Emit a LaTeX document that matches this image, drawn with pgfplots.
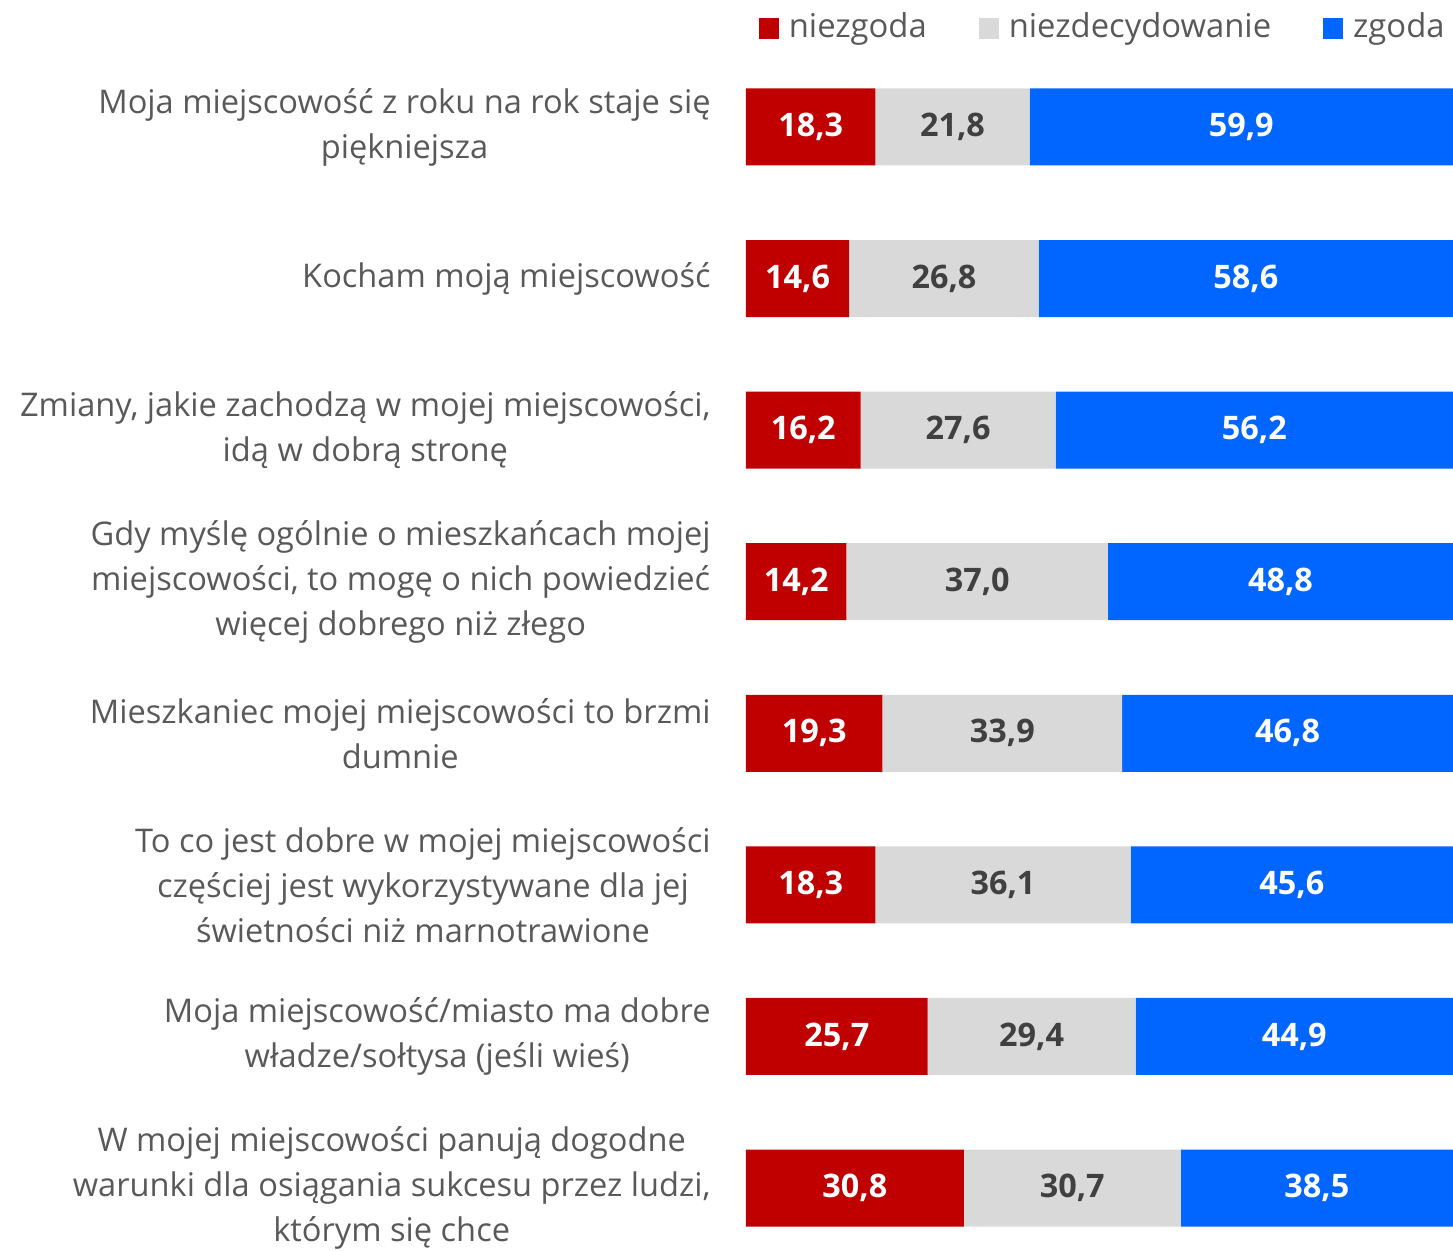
\documentclass[border=0pt]{standalone}
\usepackage{pgfplots}
\usepackage{pgfplotstable}
\usepackage{fontspec}
\setmainfont{Open Sans}
\pgfplotsset{compat=1.18}
\definecolor{neg}{HTML}{C00000}
\definecolor{mid}{HTML}{D9D9D9}
\definecolor{pos}{HTML}{0066FF}
\definecolor{txt}{HTML}{595959}
\definecolor{midtxt}{HTML}{404040}

% niezgoda / niezdecydowanie / zgoda, in %
\pgfplotstableread{
idx a b c
0 18.3 21.8 59.9
1 14.6 26.8 58.6
2 16.2 27.6 56.2
3 14.2 37.0 48.8
4 19.3 33.9 46.8
5 18.3 36.1 45.6
6 25.7 29.4 44.9
7 30.8 30.7 38.5
}\survey

\pgfplotsset{
  frame/.style={
    scale only axis,
    width=353.5pt, height=599.4pt,
    xmin=0, xmax=100, ymin=-0.5, ymax=7.409,
    enlarge x limits=false, enlarge y limits=false,
    y dir=reverse,
    axis line style={draw=none},
    xtick=\empty, major tick length=0pt,
  },
  barlabel/.style={
    only marks, mark=none, point meta=explicit,
    nodes near coords={\pgfmathprintnumber[fixed,fixed zerofill,precision=1,use comma,assume math mode=true]{\pgfplotspointmeta}},
    every node near coord/.append style={anchor=center, inner sep=0pt,
      font=\fontsize{16.2}{19}\selectfont\bfseries, text=#1},
  },
}

\begin{document}
\begin{tikzpicture}
\begin{axis}[
  frame,
  xbar stacked,
  bar width=38.5pt,
  ytick={0,...,7},
  yticklabels={
    {Moja miejscowość z roku na rok staje się\\piękniejsza},
    {Kocham moją miejscowość},
    {Zmiany, jakie zachodzą w mojej miejscowości,\\idą w dobrą stronę},
    {Gdy myślę ogólnie o mieszkańcach mojej\\miejscowości, to mogę o nich powiedzieć\\więcej dobrego niż złego},
    {Mieszkaniec mojej miejscowości to brzmi\\dumnie},
    {To co jest dobre w mojej miejscowości\\częściej jest wykorzystywane dla jej\\świetności niż marnotrawione},
    {Moja miejscowość/miasto ma dobre\\władze/sołtysa (jeśli wieś)},
    {W mojej miejscowości panują dogodne\\warunki dla osiągania sukcesu przez ludzi,\\którym się chce}},
  yticklabel style={align=center, anchor=east, inner sep=0pt, xshift=-17.5pt,
    font=\fontsize{16.3}{22.5}\selectfont, text=txt},
  legend columns=3,
  legend style={at={(1,1)}, anchor=south east, yshift=3pt, xshift=-2pt,
    draw=none, fill=none,
    inner sep=0pt, font=\fontsize{16.4}{19}\selectfont, text=txt,
    /tikz/every odd column/.append style={column sep=3pt},
    /tikz/every even column/.append style={column sep=24pt}},
  legend image code/.code={\fill[#1] (0pt,-6pt) rectangle (10pt,4.5pt);},
]
\addplot[fill=neg, draw=none] table[x=a, y=idx] {\survey};
\addlegendentry{niezgoda}
\addplot[fill=mid, draw=none] table[x=b, y=idx] {\survey};
\addlegendentry{niezdecydowanie}
\addplot[fill=pos, draw=none] table[x=c, y=idx] {\survey};
\addlegendentry{zgoda}
\end{axis}
% value labels, centred in each segment
\begin{axis}[frame, ytick=\empty, name=lab]
\addplot[barlabel=white] table[x expr=\thisrow{a}/2, y=idx, meta=a] {\survey};
\addplot[barlabel=midtxt] table[x expr=\thisrow{a}+\thisrow{b}/2, y=idx, meta=b] {\survey};
\addplot[barlabel=white] table[x expr=\thisrow{a}+\thisrow{b}+\thisrow{c}/2, y=idx, meta=c] {\survey};
\end{axis}
\pgfresetboundingbox
\path ([xshift=-373pt,yshift=25.6pt]lab.north west) rectangle (lab.south east);
\end{tikzpicture}
\end{document}
